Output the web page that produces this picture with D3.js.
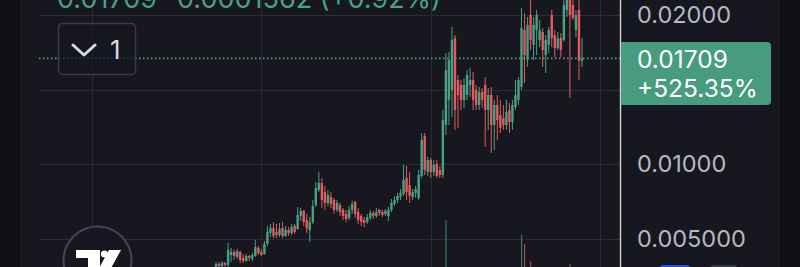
<!DOCTYPE html>
<html>
<head>
<meta charset="utf-8">
<script src="https://cdn.jsdelivr.net/npm/d3@7"></script>
<style>
  html, body { margin: 0; padding: 0; background: #16171f; overflow: hidden; }
  svg { display: block; font-family: Inter, "Noto Sans", sans-serif; }
</style>
</head>
<body>
<svg width="800" height="267"></svg>
<script>
// candles, oldest first (price in quote currency)
const opens = [
  0.003091, 0.003293, 0.003158, 0.003360, 0.003225, 0.003896, 0.004098, 0.003762, 0.004098, 0.003695,
  0.003494, 0.003829, 0.003628, 0.003829, 0.004366, 0.004098, 0.003964, 0.004635, 0.005373, 0.005708,
  0.005440, 0.005238, 0.005708, 0.005171, 0.005574, 0.005373, 0.005842, 0.005641, 0.006513, 0.006849,
  0.006245, 0.005574, 0.006111, 0.007251, 0.008258, 0.008728, 0.008124, 0.007386, 0.007788, 0.007587,
  0.006916, 0.007251, 0.006916, 0.006648, 0.006379, 0.006916, 0.007453, 0.006782, 0.006513, 0.006245,
  0.006111, 0.006379, 0.006715, 0.006513, 0.006916, 0.006782, 0.006648, 0.006513, 0.006916, 0.007319,
  0.007587, 0.007788, 0.007990, 0.009063, 0.008593, 0.007788, 0.008057, 0.007721, 0.009197, 0.011881,
  0.009466, 0.010271, 0.009466, 0.010003, 0.009600, 0.009264, 0.012619, 0.014297, 0.014968, 0.018457,
  0.015639, 0.015303, 0.014297, 0.014632, 0.015303, 0.015639, 0.014968, 0.013961, 0.014834, 0.015303,
  0.013626, 0.014632, 0.012619, 0.013961, 0.013290, 0.013089, 0.012619, 0.013626, 0.012821, 0.013827,
  0.014297, 0.015169, 0.018994, 0.016981, 0.020000, 0.017987, 0.018994, 0.018323, 0.018860, 0.017316,
  0.017987, 0.020000, 0.018658, 0.017786, 0.018457, 0.018323, 0.020336, 0.021007, 0.020671, 0.018994,
  0.020336, 0.016934
];
const highs = [
  0.003427, 0.003427, 0.003494, 0.003427, 0.004702, 0.004366, 0.004232, 0.004299, 0.004165, 0.003964,
  0.003964, 0.003896, 0.004031, 0.004903, 0.004500, 0.004299, 0.004836, 0.005842, 0.005977, 0.006111,
  0.005977, 0.006044, 0.006111, 0.005842, 0.005775, 0.005977, 0.005977, 0.007117, 0.007050, 0.006916,
  0.006648, 0.006446, 0.007587, 0.008795, 0.009466, 0.009063, 0.008526, 0.008258, 0.008124, 0.007721,
  0.007587, 0.007386, 0.007050, 0.006916, 0.007184, 0.007520, 0.007520, 0.007050, 0.006648, 0.006446,
  0.006648, 0.006916, 0.006849, 0.007050, 0.006983, 0.006916, 0.006983, 0.007117, 0.007654, 0.007855,
  0.008057, 0.008325, 0.009935, 0.009868, 0.009466, 0.008325, 0.008526, 0.009600, 0.012083, 0.012083,
  0.010472, 0.010405, 0.010271, 0.010271, 0.009868, 0.013626, 0.017451, 0.017518, 0.019195, 0.018658,
  0.015974, 0.015639, 0.015773, 0.016310, 0.016444, 0.016176, 0.015303, 0.015169, 0.015102, 0.015840,
  0.015102, 0.015169, 0.014297, 0.014632, 0.014297, 0.013961, 0.014297, 0.014096, 0.014297, 0.015639,
  0.015840, 0.020470, 0.020135, 0.019866, 0.021343, 0.019866, 0.020336, 0.019665, 0.019128, 0.018658,
  0.019195, 0.020336, 0.018994, 0.018860, 0.018793, 0.021343, 0.021678, 0.021678, 0.021343, 0.020336,
  0.021343, 0.018457
];
const lows = [
  0.003024, 0.003024, 0.003091, 0.003091, 0.003091, 0.003427, 0.003561, 0.003628, 0.003360, 0.003360,
  0.003427, 0.003494, 0.003494, 0.003762, 0.003896, 0.003829, 0.003896, 0.004500, 0.005104, 0.005037,
  0.005037, 0.005104, 0.005037, 0.005104, 0.005171, 0.005238, 0.005306, 0.005574, 0.006178, 0.005842,
  0.005373, 0.004769, 0.005977, 0.007117, 0.008124, 0.007050, 0.006916, 0.007184, 0.007050, 0.006648,
  0.006782, 0.006513, 0.006245, 0.006111, 0.006245, 0.006648, 0.006379, 0.005977, 0.005842, 0.005775,
  0.005977, 0.006245, 0.006312, 0.006379, 0.006513, 0.006446, 0.006513, 0.006178, 0.006782, 0.007184,
  0.007386, 0.007587, 0.007855, 0.007587, 0.007386, 0.007587, 0.007721, 0.007587, 0.009063, 0.009264,
  0.009197, 0.009063, 0.009197, 0.009063, 0.009063, 0.009063, 0.011948, 0.012619, 0.013156, 0.012284,
  0.012418, 0.013626, 0.013760, 0.014297, 0.014498, 0.013626, 0.013626, 0.013626, 0.013760, 0.011143,
  0.012284, 0.010741, 0.010942, 0.011613, 0.012083, 0.012284, 0.012284, 0.012083, 0.012284, 0.013626,
  0.013961, 0.014968, 0.015438, 0.016511, 0.017652, 0.016981, 0.017316, 0.017853, 0.016511, 0.016109,
  0.017451, 0.017853, 0.017182, 0.017652, 0.017182, 0.018189, 0.019866, 0.014431, 0.019665, 0.018524,
  0.015639, 0.016511
];
const closes = [
  0.003293, 0.003158, 0.003360, 0.003225, 0.004232, 0.004098, 0.003829, 0.004165, 0.003561, 0.003494,
  0.003829, 0.003695, 0.003896, 0.004433, 0.004031, 0.003896, 0.004635, 0.005440, 0.005708, 0.005171,
  0.005238, 0.005641, 0.005171, 0.005574, 0.005373, 0.005775, 0.005440, 0.006580, 0.006849, 0.006111,
  0.005708, 0.006111, 0.007184, 0.008392, 0.008728, 0.007587, 0.007386, 0.007922, 0.007319, 0.006916,
  0.007386, 0.006782, 0.006513, 0.006312, 0.006916, 0.007319, 0.006648, 0.006245, 0.006111, 0.006044,
  0.006446, 0.006715, 0.006513, 0.006782, 0.006715, 0.006580, 0.006849, 0.006916, 0.007386, 0.007587,
  0.007855, 0.008057, 0.008929, 0.008124, 0.007855, 0.008124, 0.008325, 0.009264, 0.011613, 0.009600,
  0.010271, 0.009466, 0.009935, 0.009197, 0.009264, 0.012955, 0.016310, 0.016981, 0.018323, 0.013626,
  0.014632, 0.014297, 0.015303, 0.015974, 0.015639, 0.014297, 0.013961, 0.014834, 0.014297, 0.013626,
  0.014632, 0.012619, 0.013961, 0.012955, 0.012418, 0.012619, 0.013492, 0.012821, 0.013961, 0.014632,
  0.015639, 0.019128, 0.017316, 0.019329, 0.018323, 0.019329, 0.020000, 0.018994, 0.017652, 0.018323,
  0.018994, 0.018457, 0.017786, 0.018457, 0.017652, 0.020671, 0.021141, 0.020000, 0.019799, 0.020000,
  0.016934, 0.017090
];
const volumes = [
  4, 3, 3, 4, 9, 5, 4, 4, 5, 3,
  3, 3, 4, 8, 4, 3, 6, 9, 6, 5,
  4, 4, 5, 3, 3, 4, 4, 10, 6, 5,
  6, 7, 8, 11, 12, 9, 6, 5, 4, 5,
  4, 4, 4, 3, 4, 5, 5, 4, 4, 3,
  3, 3, 3, 3, 2, 3, 3, 4, 5, 4,
  4, 5, 12, 10, 7, 4, 4, 9, 13, 12,
  6, 5, 4, 4, 3, 14, 76, 13, 14, 13,
  9, 6, 5, 6, 5, 7, 5, 4, 4, 9,
  6, 8, 7, 6, 5, 4, 5, 5, 6, 8,
  9, 58, 46, 12, 25, 10, 8, 7, 8, 7,
  7, 9, 6, 5, 6, 12, 11, 21, 8, 7,
  12, 9
];

const gridPrices = [0.005, 0.01, 0.015, 0.02];
// 0.015 sits under the last-price badge, so it has no visible label
const priceTicks = [0.005, 0.01, 0.02];
const priceTickLabels = ["0.005000", "0.01000", "0.02000"];
const timeGrid = [-41, 15, 71, 127];   // candle positions of the vertical grid lines

const lastPrice = 0.01709;
const headerValues = ["0.01709", "0.0001562 (+0.92%)"];
const badgeLines = ["0.01709", "+525.35%"];

const up = "#4aa184", down = "#e25b5f";

const svg = d3.select("svg");
const W = 800, H = 267;

const x = d3.scaleLinear().domain([0, opens.length - 1]).range([216, 582]);
const y = d3.scaleLinear().domain([0.005, 0.02]).range([238.5, 15]);
const yVol = d3.scaleLinear().domain([0, 100]).range([281, 201]);

const data = opens.map((o, i) => ({
  i, o, h: highs[i], l: lows[i], c: closes[i], v: volumes[i]
}));

// backgrounds
svg.append("rect").attr("width", W).attr("height", H).attr("fill", "#16171f");
svg.append("rect").attr("width", 20).attr("height", H).attr("fill", "#0e0f14");
svg.append("rect").attr("x", 780).attr("width", 20).attr("height", H).attr("fill", "#0f1015");

// grid
const grid = svg.append("g").attr("stroke", "#2a2c37").attr("stroke-width", 1);
grid.selectAll("line.v")
  .data(timeGrid)
  .join("line")
  .attr("class", "v")
  .attr("x1", d => Math.round(x(d)) + 0.5)
  .attr("x2", d => Math.round(x(d)) + 0.5)
  .attr("y1", 0).attr("y2", H);
grid.selectAll("line.h")
  .data(gridPrices)
  .join("line")
  .attr("class", "h")
  .attr("x1", 39).attr("x2", 620)
  .attr("y1", d => Math.round(y(d)) + 0.5)
  .attr("y2", d => Math.round(y(d)) + 0.5);

// volume
svg.append("g")
  .selectAll("rect")
  .data(data)
  .join("rect")
  .attr("x", d => x(d.i) - 0.5)
  .attr("width", 1.2)
  .attr("y", d => yVol(d.v))
  .attr("height", d => yVol(0) - yVol(d.v))
  .attr("fill", d => d.c >= d.o ? up : down)
  .attr("opacity", 0.7);

// candles
const candle = svg.append("g")
  .selectAll("g")
  .data(data)
  .join("g")
  .attr("fill", d => d.c >= d.o ? up : down);

candle.append("rect")
  .attr("x", d => x(d.i) - 0.5)
  .attr("width", 1)
  .attr("y", d => y(d.h))
  .attr("height", d => y(d.l) - y(d.h));

candle.append("rect")
  .attr("x", d => x(d.i) - 1.2)
  .attr("width", 2.4)
  .attr("y", d => y(Math.max(d.o, d.c)))
  .attr("height", d => Math.max(1, Math.abs(y(d.o) - y(d.c))));

// last price line
svg.append("line")
  .attr("x1", 39).attr("x2", 620)
  .attr("y1", y(lastPrice)).attr("y2", y(lastPrice))
  .attr("stroke", "#4aa184")
  .attr("stroke-width", 1.6)
  .attr("stroke-dasharray", "1.6 2.4");

// collapse button
const btn = svg.append("g");
btn.append("rect")
  .attr("x", 58.5).attr("y", 23.5).attr("width", 77).attr("height", 51).attr("rx", 4)
  .attr("fill", "rgba(22,23,31,0.75)")
  .attr("stroke", "#3a3c47").attr("stroke-width", 1.5);
btn.append("path")
  .attr("d", "M73,45 L84,55 L95,45")
  .attr("fill", "none").attr("stroke", "#d9dbe2").attr("stroke-width", 3)
  .attr("stroke-linecap", "round").attr("stroke-linejoin", "round");
btn.append("text")
  .attr("x", 110).attr("y", 58.5)
  .attr("font-size", 26).attr("fill", "#d9dbe2")
  .text("1");

// header (cut off at the top, as in the screenshot)
svg.append("text")
  .attr("y", 8)
  .attr("font-size", 27)
  .attr("fill", "#4aa184")
  .selectAll("tspan")
  .data(headerValues)
  .join("tspan")
  .attr("x", (d, i) => i === 0 ? 57 : 177)
  .text(d => d);

// logo
const logo = svg.append("g");
logo.append("circle")
  .attr("cx", 97.5).attr("cy", 260.5).attr("r", 34)
  .attr("fill", "#16171f").attr("stroke", "#46484f").attr("stroke-width", 2);
logo.append("path")
  .attr("fill", "#ffffff")
  .attr("d", "M76,250 H100 V270 H88 V258 H76 Z M109,250 H121 L110,270 H98 Z");
logo.append("circle").attr("cx", 104.5).attr("cy", 254).attr("r", 3.6).attr("fill", "#ffffff");

// price axis
svg.append("line")
  .attr("x1", 620.5).attr("x2", 620.5).attr("y1", 0).attr("y2", H)
  .attr("stroke", "#d4d4d6").attr("stroke-width", 1.4);

const axis = svg.append("g")
  .attr("transform", "translate(624,0)")
  .call(d3.axisRight(y)
    .tickValues(priceTicks)
    .tickFormat((d, i) => priceTickLabels[i])
    .tickSize(0)
    .tickPadding(13));
axis.select(".domain").remove();
axis.selectAll("text")
  .attr("font-family", "Inter, sans-serif")
  .attr("font-size", 23.5)
  .attr("fill", "#b6b8c0");

// last price badge
const badge = svg.append("g");
badge.append("path")
  .attr("d", "M621,42 H767 Q771,42 771,46 V101 Q771,105 767,105 H621 Z")
  .attr("fill", "#479c7f");
badge.append("text")
  .attr("font-size", 24.5)
  .attr("fill", "#ffffff")
  .selectAll("tspan")
  .data(badgeLines)
  .join("tspan")
  .attr("x", 637)
  .attr("y", (d, i) => i === 0 ? 68 : 97)
  .text(d => d);

// tags peeking in at the bottom
svg.append("rect").attr("x", 660).attr("y", 265).attr("width", 30).attr("height", 20).attr("rx", 3).attr("fill", "#2a4fe0");
svg.append("rect").attr("x", 710).attr("y", 265).attr("width", 27).attr("height", 20).attr("rx", 3).attr("fill", "#363945");
</script>
</body>
</html>
